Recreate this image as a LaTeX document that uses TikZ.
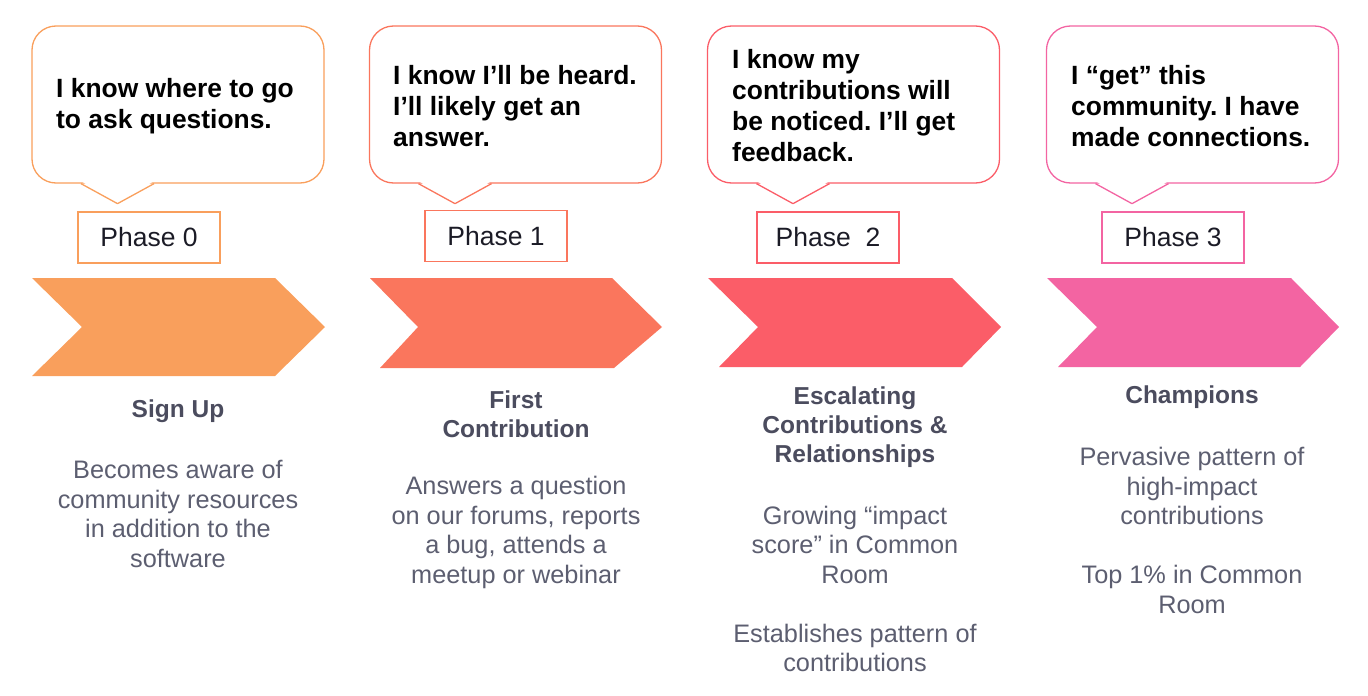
\documentclass[tikz,border=0pt]{standalone}
\usepackage{fontspec}
\setmainfont{Liberation Sans}
\frenchspacing
\usetikzlibrary{positioning}
\definecolor{phaseA}{HTML}{F99F5C}
\definecolor{phaseB}{HTML}{FA765D}
\definecolor{phaseC}{HTML}{FB5D68}
\definecolor{phaseD}{HTML}{F364A2}
\definecolor{headgray}{HTML}{4B4C5E}
\definecolor{bodygray}{HTML}{5C5E70}
\definecolor{ink}{HTML}{1B1B26}
\tikzset{
    bubble/.style={draw=#1, fill=white, line width=1.3pt, rounded corners=24pt,
        minimum width=292pt, minimum height=157pt, inner sep=0pt},
    saying/.style={anchor=west, align=left, inner sep=0pt,
        font=\fontsize{26.4}{31}\selectfont\bfseries, text=black},
    phasebox/.style={draw=#1, line width=1.3pt, minimum width=142pt,
        minimum height=51pt, inner sep=0pt, font=\fontsize{26.5}{30}\selectfont, text=ink},
    heading/.style={align=center, inner sep=0pt,
        font=\fontsize{24.5}{29}\selectfont\bfseries, text=headgray},
    blurb/.style={align=center, inner sep=0pt,
        font=\fontsize{25.3}{29.5}\selectfont, text=bodygray}
}
\begin{document}
\begin{tikzpicture}[x=1pt,y=-1pt]
        \useasboundingbox (0,0) rectangle (1368,696);
        \foreach \i/\cx/\col in {0/178/phaseA,1/515.5/phaseB,2/853.5/phaseC,3/1192.5/phaseD}{
            \node[bubble=\col] (bubble\i) at (\cx,104.5) {};
            \fill[white] ([xshift=-96pt,yshift=2pt]bubble\i.south) -- ([xshift=-60.5pt,yshift=-20pt]bubble\i.south)
                -- ([xshift=-25pt,yshift=2pt]bubble\i.south) -- cycle;
            \draw[\col,line width=1.3pt,line join=round] ([xshift=-97pt]bubble\i.south)
                -- ([xshift=-60.5pt,yshift=-20pt]bubble\i.south) -- ([xshift=-24pt]bubble\i.south);
        }
        \node[saying] (say0) at (56,106.5) {I know where to go\\to ask questions.};
        \node[saying] (say1) at (393,106) {I know I’ll be heard.\\I’ll likely get an\\answer.};
        \node[saying] (say2) at (732,106) {I know my\\contributions will\\be noticed. I’ll get\\feedback.};
        \node[saying] (say3) at (1071,106) {I “get” this\\community. I have\\made connections.};
        \node[phasebox=phaseA] (phase0) at (149,237.5) {Phase 0};
        \node[phasebox=phaseB] (phase1) at (496,236) {Phase 1};
        \node[phasebox=phaseC] (phase2) at (828,237.5) {Phase\ \ 2};
        \node[phasebox=phaseD] (phase3) at (1173,237.5) {Phase 3};
        \fill[phaseA] (32,278) -- (275,278) -- (325,327) -- (275,376) -- (32,376) -- (82,327) -- cycle;
        \fill[phaseB] (370,278) -- (612,278) -- (662,327) -- (614,368) -- (380,368) -- (418,327) -- cycle;
        \fill[phaseC] (708,278) -- (952,278) -- (1001,327) -- (962,367) -- (719,367) -- (758,327) -- cycle;
        \fill[phaseD] (1047,278) -- (1291,278) -- (1339,327) -- (1300,367) -- (1058,367) -- (1097,327) -- cycle;
        \node[heading] (head0) at (178,411) {Sign Up};
        \node[blurb] (blurb0) at (178,514) {Becomes aware of\\community resources\\in addition to the\\software};
        \node[heading] (head1) at (516,414.5) {First\\Contribution};
        \node[blurb] (blurb1) at (516,532.5) {Answers a question\\on our forums, reports\\a bug, attends a\\meetup or webinar};
        \node[heading] (head2) at (855,427) {Escalating\\Contributions \&\\Relationships};
        \node[blurb] (blurb2) at (855,589) {Growing “impact\\score” in Common\\Room\\[29.5pt]Establishes pattern of\\contributions};
        \node[heading] (head3) at (1192,397) {Champions};
        \node[blurb] (blurb3) at (1192,530.5) {Pervasive pattern of\\high-impact\\contributions\\[29.5pt]Top 1\% in Common\\Room};
\end{tikzpicture}
\end{document}
